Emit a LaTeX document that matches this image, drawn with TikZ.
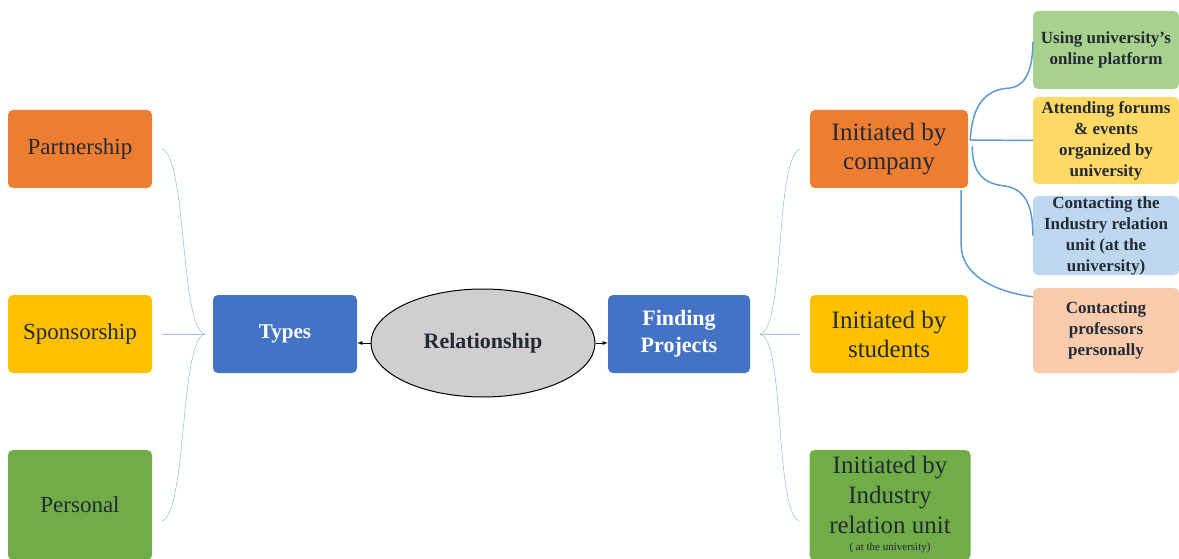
\documentclass[tikz,border=0pt]{standalone}
\usepackage{fontspec}
\setmainfont{Liberation Serif}
\usetikzlibrary{shapes.geometric}

\definecolor{orange1}{HTML}{ED7D31}
\definecolor{gold1}{HTML}{FFC000}
\definecolor{green1}{HTML}{70AD47}
\definecolor{blue1}{HTML}{4472C4}
\definecolor{grey1}{HTML}{D0CECE}
\definecolor{green2}{HTML}{A9D18E}
\definecolor{gold2}{HTML}{FFD966}
\definecolor{blue2}{HTML}{BDD7EE}
\definecolor{peach2}{HTML}{F8CBAD}
\definecolor{link1}{HTML}{9DC3E6}
\definecolor{branch1}{HTML}{5B9BD5}
\definecolor{ink}{HTML}{222A35}

\tikzset{
  box/.style={rectangle, rounded corners=5pt, minimum width=144pt, minimum height=78pt,
    inner sep=0pt, align=center, text=ink, font=\fontsize{23}{28}\selectfont},
  initbox/.style={box, minimum width=158pt, font=\fontsize{25}{29}\selectfont},
  subbox/.style={box, minimum width=146pt, font=\bfseries\fontsize{17}{21}\selectfont},
  link/.style={draw=link1, line width=0.6pt},
  branch/.style={draw=branch1, line width=1.5pt},
}

\begin{document}
\begin{tikzpicture}[x=1pt,y=-1pt]
\useasboundingbox (0,0) rectangle (1179,559);

\node[box, fill=orange1] (1) at (80,149) {Partnership};
\node[box, fill=gold1] (2) at (80,334) {Sponsorship};
\node[box, fill=green1, minimum height=110pt] (3) at (80,505) {Personal};
\node[box, fill=blue1, text=white, font=\bfseries\fontsize{21}{26}\selectfont] (4) at (285,334) {Types};
\node[draw, line width=1pt, ellipse, fill=grey1, minimum width=224pt, minimum height=108pt, inner sep=0pt,
  text=ink, font=\bfseries\fontsize{22}{26}\selectfont] (5) at (483,343) {Relationship};
\node[box, fill=blue1, text=white, minimum width=142pt, font=\bfseries\fontsize{22}{27}\selectfont] (6) at (679,334) {Finding\\Projects};
\node[initbox, fill=orange1] (7) at (889,149) {Initiated by\\company};
\node[initbox, fill=gold1] (8) at (889,334) {Initiated by\\students};
\node[initbox, fill=green1, minimum width=161pt, minimum height=110pt, font=\fontsize{25}{30}\selectfont] (9) at (890,505)
  {Initiated by\\Industry\\relation unit\\[-13pt]{\fontsize{11}{12}\selectfont( at the university)}};
\node[subbox, fill=green2] (10) at (1106,50) {Using university's\\online platform};
\node[subbox, fill=gold2, minimum height=87pt] (11) at (1106,140.5) {Attending forums\\\& events\\organized by\\university};
\node[subbox, fill=blue2, minimum height=79pt] (12) at (1106,235.5) {Contacting the\\Industry relation\\unit (at the\\university)};
\node[subbox, fill=peach2, minimum height=85pt] (13) at (1106,330.5) {Contacting\\professors\\personally};

\path[draw,thick,->,>=latex] (5.west) -- (5.west -| 4.east);
\path[draw,thick,->,>=latex] (5.east) -- (5.east -| 6.west);

\path[link] ([shift={(-8,0)}]4.west) .. controls +(-25,-6) and +(25,10) .. ([shift={(10,0)}]1.east);
\path[link] ([shift={(-8,0)}]4.west) -- ([shift={(10,0)}]2.east);
\path[link] ([shift={(-8,0)}]4.west) .. controls +(-25,6) and +(25,-10) .. ([shift={(10,16)}]3.east);

\path[link] ([shift={(10,0)}]6.east) .. controls +(25,-6) and +(-25,10) .. ([shift={(-10,0)}]7.west);
\path[link] ([shift={(10,0)}]6.east) -- ([shift={(-10,0)}]8.west);
\path[link] ([shift={(10,0)}]6.east) .. controls +(25,6) and +(-25,-10) .. ([shift={(-10,16)}]9.west);

\path[branch] ([shift={(2,-9)}]7.east) .. controls +(2,-35) and +(-25,1) .. ++(40,-52)
  .. controls +(20,-3) and +(0,18) .. ([shift={(0,-8)}]10.west);
\path[branch] ([shift={(2,-9)}]7.east) -- (11.west);
\path[branch] ([shift={(4,-3)}]7.east) .. controls +(0,29) and +(-20,-2) .. ++(33,40)
  .. controls +(23,4) and +(0,-25) .. (12.west);
\path[branch] ([shift={(-7,2)}]7.south east) -- ++(0,55) .. controls +(0,30) and +(-38,-5) .. ([shift={(0,9)}]13.north west);
\end{tikzpicture}
\end{document}
